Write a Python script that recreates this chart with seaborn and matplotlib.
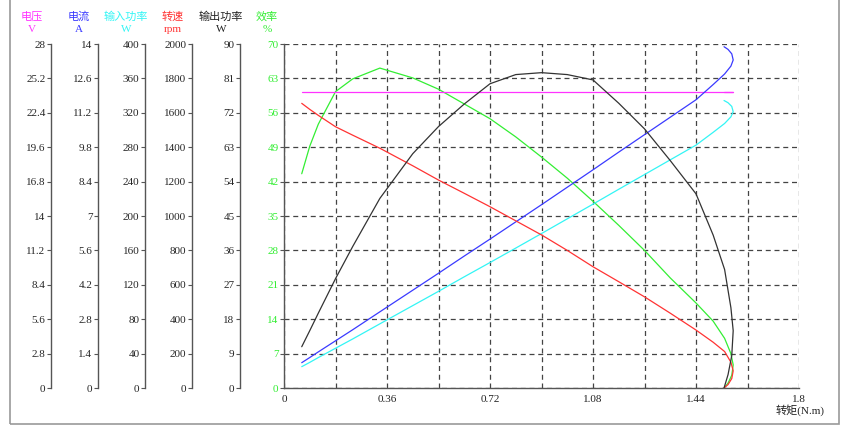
import numpy as np
import pandas as pd
import matplotlib
matplotlib.use("Agg")
import matplotlib.pyplot as plt
import matplotlib.transforms as mtransforms
from matplotlib.patches import Rectangle
import seaborn as sns

# test points (torque in N.m, in test order)
torque = [0.062, 0.09, 0.12, 0.18, 0.24, 0.335, 0.45, 0.54, 0.63, 0.72, 0.81, 0.90,
          0.99, 1.08, 1.17, 1.26, 1.35, 1.44, 1.50, 1.54, 1.562, 1.570, 1.565, 1.552, 1.538]
voltage = [24.1, 24.1, 24.1, 24.1, 24.1, 24.1, 24.1, 24.1, 24.1, 24.1, 24.1, 24.1,
           24.1, 24.1, 24.1, 24.1, 24.1, 24.1, 24.1, 24.1, 24.1, 24.1, 24.1, 24.1, 24.1]
current = [1.03, 1.24, 1.47, 1.92, 2.37, 3.10, 3.98, 4.67, 5.37, 6.06, 6.76, 7.46,
           8.17, 8.88, 9.60, 10.31, 11.02, 11.73, 12.35, 12.78, 13.10, 13.35, 13.60, 13.78, 13.89]
input_power = [24.8, 29.8, 35.4, 46.2, 57.0, 74.6, 95.8, 112.4, 129.3, 145.9, 162.7, 179.6,
               196.7, 213.8, 231.1, 248.2, 265.3, 282.4, 297.3, 307.6, 315.3, 321.3, 327.4, 331.7, 334.3]
speed = [1655, 1620, 1585, 1519, 1470, 1394, 1292, 1209, 1132, 1054, 972, 890,
         800, 705, 618, 530, 435, 337, 266, 212, 150, 100, 55, 20, 0]
output_power = [10.8, 15.0, 19.6, 28.6, 37.0, 49.6, 61.3, 68.4, 74.3, 79.6, 82.0, 82.5,
                82.0, 80.6, 74.5, 67.8, 59.5, 50.8, 40.0, 31.0, 21.0, 15.0, 8.5, 3.5, 0.0]
efficiency = [43.6, 49.2, 53.7, 60.3, 62.9, 65.1, 63.1, 60.8, 57.8, 54.8, 51.1, 47.0,
              42.7, 38.0, 33.1, 28.0, 22.4, 17.3, 13.6, 10.1, 7.0, 4.7, 2.6, 1.0, 0.0]

x_ticks = [0, 0.18, 0.36, 0.54, 0.72, 0.9, 1.08, 1.26, 1.44, 1.62, 1.8]
x_labels = ["0", "", "0.36", "", "0.72", "", "1.08", "", "1.44", "", "1.8"]

volt_labels = ["0", "2.8", "5.6", "8.4", "11.2", "14", "16.8", "19.6", "22.4", "25.2", "28"]
curr_labels = ["0", "1.4", "2.8", "4.2", "5.6", "7", "8.4", "9.8", "11.2", "12.6", "14"]
pin_labels = ["0", "40", "80", "120", "160", "200", "240", "280", "320", "360", "400"]
speed_labels = ["0", "200", "400", "600", "800", "1000", "1200", "1400", "1600", "1800", "2000"]
pout_labels = ["0", "9", "18", "27", "36", "45", "54", "63", "72", "81", "90"]
eff_labels = ["0", "7", "14", "21", "28", "35", "42", "49", "56", "63", "70"]

df = pd.DataFrame({
    "torque": torque,
    "voltage": voltage,
    "current": current,
    "input_power": input_power,
    "speed": speed,
    "output_power": output_power,
    "efficiency": efficiency,
})

sns.set_style("ticks")
plt.rcParams['font.family'] = ['Liberation Serif', 'Noto Sans CJK SC']

W, H = 850, 425
fig = plt.figure(figsize=(8.5, 4.25), dpi=100)
ax = fig.add_axes([284 / W, 1 - 388 / H, 515 / W, 344 / H])

spine_col = "#555555"
grid_col = "#444444"

# (column, line colour, text colour, max, labels, spine x px, name, unit)
axes_cfg = [
    ("voltage", "#FF33FF", "#FF33FF", 28, volt_labels, 51, "电压", "V"),
    ("current", "#3a3aff", "#3a3aff", 14, curr_labels, 98, "电流", "A"),
    ("input_power", "#33f5f5", "#33f5f5", 400, pin_labels, 145, "输入功率", "W"),
    ("speed", "#ff3333", "#ff3333", 2000, speed_labels, 192, "转速", "rpm"),
    ("output_power", "#333333", "#222222", 90, pout_labels, 240, "输出功率", "W"),
]

# main axis: efficiency + grid
sns.lineplot(data=df, x="torque", y="efficiency", ax=ax, sort=False, estimator=None,
             color="#33ee33", lw=0.9)
ax.set_xlim(0, 1.8)
ax.set_ylim(0, 70)
ax.set_xticks(x_ticks)
ax.set_xticklabels(x_labels)
ax.set_yticks(np.linspace(0, 70, 11))
ax.set_yticklabels(eff_labels, color="#33ee33")
ax.grid(True, color=grid_col, linestyle=(0, (4, 3)), lw=0.9)
ax.set_xlabel("")
ax.set_ylabel("")
for s in ["top", "right"]:
    ax.spines[s].set_visible(False)
for s in ["left", "bottom"]:
    ax.spines[s].set_color(spine_col)
    ax.spines[s].set_linewidth(1.0)
ax.tick_params(axis="y", direction="out", length=3, width=0.8, color=spine_col, pad=1, labelsize=8)
ax.tick_params(axis="x", length=0, pad=5, labelsize=8, labelcolor="#222222")

for col, lc, tc, ymax, labels, spx, name, unit in axes_cfg:
    tw = ax.twinx()
    sns.lineplot(data=df, x="torque", y=col, ax=tw, sort=False, estimator=None, color=lc, lw=0.9)
    tw.set_ylim(0, ymax)
    tw.set_yticks(np.linspace(0, ymax, 11))
    tw.set_yticklabels(labels, color=tc)
    tw.yaxis.set_ticks_position("left")
    tw.spines["left"].set_position(("axes", (spx - 284) / 515))
    tw.spines["left"].set_visible(True)
    tw.spines["left"].set_color(spine_col)
    tw.spines["left"].set_linewidth(1.0)
    for s in ["top", "right", "bottom"]:
        tw.spines[s].set_visible(False)
    tw.tick_params(axis="y", direction="out", length=3, width=0.8, color=spine_col, pad=1, labelsize=8)
    tw.set_ylabel("")
    fig.text((spx - 19) / W, 1 - 17 / H, name, color=tc, ha="center", va="center", fontsize=8)
    fig.text((spx - 19) / W, 1 - 29 / H, unit, color=tc, ha="center", va="center", fontsize=8)

fig.text(267 / W, 1 - 17 / H, "效率", color="#33ee33", ha="center", va="center", fontsize=8)
fig.text(267 / W, 1 - 29 / H, "%", color="#33ee33", ha="center", va="center", fontsize=8)

trans = mtransforms.blended_transform_factory(ax.transData, ax.transAxes)
ax.text(1.805, -0.064, "转矩(N.m)", transform=trans, ha="center", va="center",
        fontsize=8, color="#222222")

fig.add_artist(Rectangle((10 / W, 1 / H), 829 / W, 1.2, transform=fig.transFigure,
                         fill=False, edgecolor="#999999", lw=1.2))

fig.savefig("out.png", dpi=100)
